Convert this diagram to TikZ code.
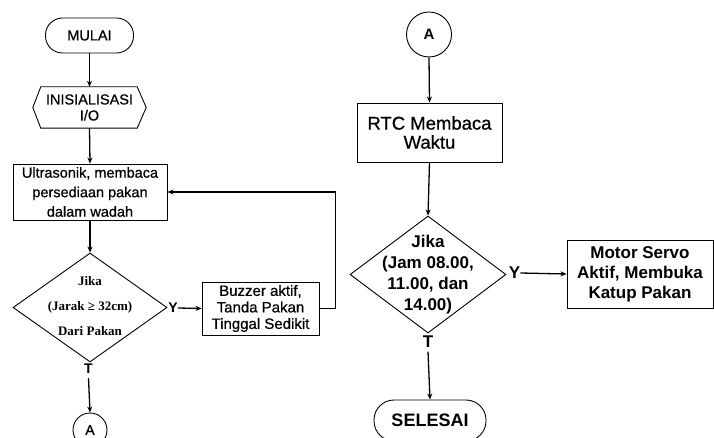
\documentclass[tikz,border=0pt]{standalone}
\usepackage{fontspec}
\setmainfont{Liberation Sans}[UprightFeatures={FakeBold=0.7}]
\newfontfamily\tms{Liberation Serif}
\usetikzlibrary{shapes.geometric,arrows.meta}
\begin{document}
\begin{tikzpicture}[x=1pt,y=-1pt,
  box/.style={draw,line width=0.9pt,inner sep=0pt,align=center},
  term/.style={box,rounded corners=17pt},
  conn/.style={draw,circle,line width=0.9pt,inner sep=0pt},
  dia/.style={draw,diamond,line width=0.9pt,inner sep=0pt},
  lbl/.style={inner sep=0pt,font=\bfseries\fontsize{14}{16}\selectfont},
  arr/.style={line width=1.3pt,-{Stealth[length=6pt,width=5pt]}},
  line/.style={line width=1.3pt}]
\useasboundingbox (0,0) rectangle (714,438);

% ---------- left column ----------
\node[term,minimum width=88pt,minimum height=35pt,font=\fontsize{14.5}{16}\selectfont] (mulai) at (89.5,35.5) {MULAI};
\node[inner sep=0pt,minimum width=113pt,minimum height=41pt,align=center,font=\fontsize{14.5}{16}\selectfont] (init) at (89.5,107.5) {INISIALISASI\\I/O};
\draw[line width=0.9pt] (init.west) -- ([xshift=8pt]init.north west) -- ([xshift=-9pt]init.north east) -- (init.east) -- ([xshift=-9pt]init.south east) -- ([xshift=8pt]init.south west) -- cycle;
\node[box,minimum width=154pt,minimum height=56pt,font=\fontsize{14.5}{19.5}\selectfont] (ultra) at (90,192) {Ultrasonik, membaca\\persediaan pakan\\dalam wadah};
\node[dia,minimum width=154pt,minimum height=109pt] (d1) at (90,307.5) {};
\node[inner sep=0pt,align=center,font=\tms\bfseries\fontsize{13}{25}\selectfont] (d1t) at (90,306) {Jika\\(Jarak ≥ 32cm)\\Dari Pakan};
\node[box,minimum width=117pt,minimum height=53pt,font=\fontsize{15}{16.5}\selectfont] (buzz) at (260.5,308.5) {Buzzer aktif,\\Tanda Pakan\\Tinggal Sedikit};
\node[lbl] (y1) at (173,308) {Y};
\node[lbl] (t1) at (88.5,369) {T};
\node[conn,minimum size=34pt,font=\fontsize{14}{16}\selectfont] (a1) at (90,430) {A};

\draw[arr] (mulai.south) -- (init.north);
\draw[arr] (init.south) -- (ultra.north);
\draw[arr] (ultra.south) -- (d1.north);
\draw[arr] (y1.east) -- (buzz.west);
\draw[arr] (t1.south) ++(0,4) -- (a1.north);
\draw[arr] (buzz.east) -- ++(16,0) |- (ultra.east);

% ---------- right column ----------
\node[conn,minimum size=45pt,font=\bfseries\fontsize{15}{17}\selectfont] (a2) at (429,34.5) {A};
\node[box,minimum width=145pt,minimum height=59pt,font=\fontsize{18.5}{19}\selectfont] (rtc) at (429.5,132.5) {RTC Membaca\\Waktu};
\node[dia,minimum width=156pt,minimum height=117pt] (d2) at (428,274.5) {};
\node[inner sep=0pt,align=center,font=\bfseries\fontsize{17}{21}\selectfont] (d2t) at (428,275) {Jika\\(Jam 08.00,\\11.00, dan\\14.00)};
\node[box,minimum width=146pt,minimum height=68pt,font=\bfseries\fontsize{17}{20}\selectfont] (servo) at (640,274) {Motor Servo\\Aktif, Membuka\\Katup Pakan};
\node[lbl,font=\bfseries\fontsize{17}{19}\selectfont] (y2) at (514.5,273) {Y};
\node[lbl,font=\bfseries\fontsize{17}{19}\selectfont] (t2) at (428,341.5) {T};
\node[term,rounded corners=20pt,minimum width=112pt,minimum height=41pt,font=\bfseries\fontsize{18}{20}\selectfont] (selesai) at (430,420.5) {SELESAI};

\draw[arr] (a2.south) -- (rtc.north);
\draw[arr] (rtc.south) -- (d2.north);
\draw[arr] (y2.east) -- (servo.west);
\draw[arr] (t2.south) ++(0,4) -- (selesai.north);
\end{tikzpicture}
\end{document}
